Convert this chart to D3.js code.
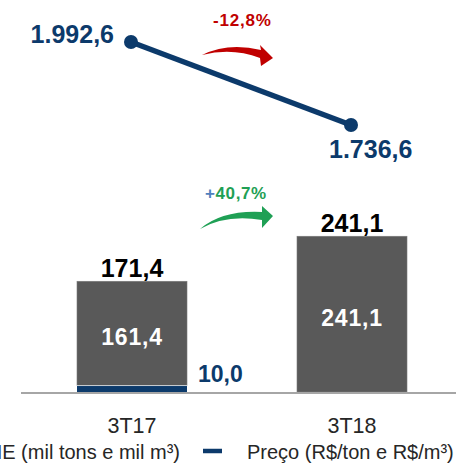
<!DOCTYPE html>
<html>
<head>
<meta charset="utf-8">
<script src="https://cdn.jsdelivr.net/npm/d3@7"></script>
<style>
  html, body { margin: 0; padding: 0; background: #fff; }
  svg { display: block; font-family: "Liberation Sans", Arial, sans-serif; }
</style>
</head>
<body>
<svg id="chart" width="456" height="471"></svg>
<script>
// ---- data ----
const categories = ["3T17", "3T18"];
const volumeNavy = [10.0, 0];       // bottom segment (navy)
const volumeGray = [161.4, 241.1];  // top segment (gray)
const volumeTotal = [171.4, 241.1];
const price = [1992.6, 1736.6];
const priceChange = "-12,8%";
const volumeChange = "+40,7%";
const legendLabels = ["VOLUME (mil tons e mil m³)", "Preço (R$/ton e R$/m³)"];

// ---- setup ----
const W = 456, H = 471;
const svg = d3.select("#chart");
const navy = "#0c3a6b", gray = "#595959", red = "#c00000", green = "#1fa055";
const loc = d3.formatLocale({decimal: ",", thousands: ".", grouping: [3], currency: ["R$", ""]});
const fmt = loc.format(",.1f");

const x = d3.scaleBand().domain(categories).range([22, 462]).paddingInner(0.5).paddingOuter(0.25);
const yBar = d3.scaleLinear().domain([0, 250]).range([392, 230.5]);
const yPrice = d3.scaleLinear().domain([1628.6, 2060.5]).range([160, 20]);

// bars
const bars = svg.append("g");
categories.forEach((c, i) => {
  const x0 = x(c), bw = x.bandwidth();
  bars.append("rect").attr("x", x0).attr("width", bw)
    .attr("y", yBar(volumeNavy[i] + volumeGray[i]))
    .attr("height", yBar(volumeNavy[i]) - yBar(volumeNavy[i] + volumeGray[i]))
    .attr("fill", gray).attr("stroke", "#7a7a7a").attr("stroke-width", 0.6);
  if (volumeNavy[i] > 0) {
    bars.append("rect").attr("x", x0).attr("width", bw)
      .attr("y", yBar(volumeNavy[i]))
      .attr("height", yBar(0) - yBar(volumeNavy[i]))
      .attr("fill", navy);
    bars.append("line").attr("x1", x0).attr("x2", x0 + bw)
      .attr("y1", yBar(volumeNavy[i])).attr("y2", yBar(volumeNavy[i]))
      .attr("stroke", "#e8e8e8").attr("stroke-width", 0.8);
  }
});

// axis line
svg.append("line").attr("x1", 21).attr("x2", 456).attr("y1", 393).attr("y2", 393)
  .attr("stroke", "#a6a6a6").attr("stroke-width", 2);

// x axis labels
const xAxis = d3.axisBottom(x).tickSize(0).tickPadding(0);
const gx = svg.append("g").attr("transform", "translate(0,414)").call(xAxis);
gx.select(".domain").remove();
gx.selectAll("text").attr("font-size", 21.5).attr("fill", "#262626")
  .attr("font-family", "Liberation Sans, Arial, sans-serif").attr("dy", "0.87em");

// total labels
categories.forEach((c, i) => {
  svg.append("text").attr("x", x(c) + x.bandwidth() / 2).attr("y", yBar(volumeTotal[i]) - 4)
    .attr("text-anchor", "middle").attr("font-size", 25).attr("font-weight", "bold")
    .attr("fill", "#000").text(fmt(volumeTotal[i]));
  // inner gray label
  const yc = (yBar(volumeNavy[i] + volumeGray[i]) + yBar(volumeNavy[i])) / 2;
  svg.append("text").attr("x", x(c) + x.bandwidth() / 2).attr("y", yc + 12)
    .attr("text-anchor", "middle").attr("font-size", 23).attr("font-weight", "bold")
    .attr("letter-spacing", 0.8).attr("fill", "#fff").text(fmt(volumeGray[i]));
  if (volumeNavy[i] > 0) {
    svg.append("text").attr("x", x(c) + x.bandwidth() + 11).attr("y", yBar(0) - 10)
      .attr("font-size", 23).attr("font-weight", "bold").attr("fill", navy)
      .text(fmt(volumeNavy[i]));
  }
});

// price line
const cx = c => x(c) + x.bandwidth() / 2 - 1;
const line = d3.line().x((d, i) => cx(categories[i])).y(d => yPrice(d));
svg.append("path").datum(price).attr("d", line).attr("fill", "none")
  .attr("stroke", navy).attr("stroke-width", 5.5);
svg.selectAll("circle.pt").data(price).join("circle").attr("class", "pt")
  .attr("cx", (d, i) => cx(categories[i])).attr("cy", d => yPrice(d)).attr("r", 7)
  .attr("fill", navy);

svg.append("text").attr("x", cx(categories[0]) - 17).attr("y", yPrice(price[0]) + 1)
  .attr("text-anchor", "end").attr("font-size", 25).attr("font-weight", "bold")
  .attr("fill", navy).text(fmt(price[0]));
svg.append("text").attr("x", cx(categories[1]) - 22).attr("y", yPrice(price[1]) + 33)
  .attr("font-size", 25).attr("font-weight", "bold")
  .attr("fill", navy).text(fmt(price[1]));

// change labels
svg.append("text").attr("x", 213).attr("y", 26).attr("font-size", 17).attr("font-weight", "bold")
  .attr("letter-spacing", 0.8).attr("fill", red).text(priceChange);
const gt = svg.append("text").attr("x", 205).attr("y", 199).attr("font-size", 17)
  .attr("font-weight", "bold").attr("letter-spacing", 0.6).attr("fill", green);
gt.append("tspan").attr("fill", "#4f81bd").text(volumeChange.slice(0, 1));
gt.append("tspan").text(volumeChange.slice(1));

// arrows
svg.append("path").attr("fill", red)
  .attr("d", "M202,55 Q228,42 261,50 L260,45 L273,58 L261,66 L260,58 Q232,47 202,55 Z");
svg.append("path").attr("fill", green)
  .attr("d", "M200,229 Q222,210 262,212 L262,206 L273,216 L262,228 L262,220 Q226,214 200,229 Z");

// legend
svg.append("text").attr("x", 180).attr("y", 459).attr("text-anchor", "end")
  .attr("font-size", 20).attr("fill", "#262626").text(legendLabels[0]);
svg.append("line").attr("x1", 203).attr("x2", 222).attr("y1", 451).attr("y2", 451)
  .attr("stroke", navy).attr("stroke-width", 4.5);
svg.append("text").attr("x", 247).attr("y", 459)
  .attr("font-size", 20).attr("fill", "#262626").text(legendLabels[1]);
</script>
</body>
</html>
